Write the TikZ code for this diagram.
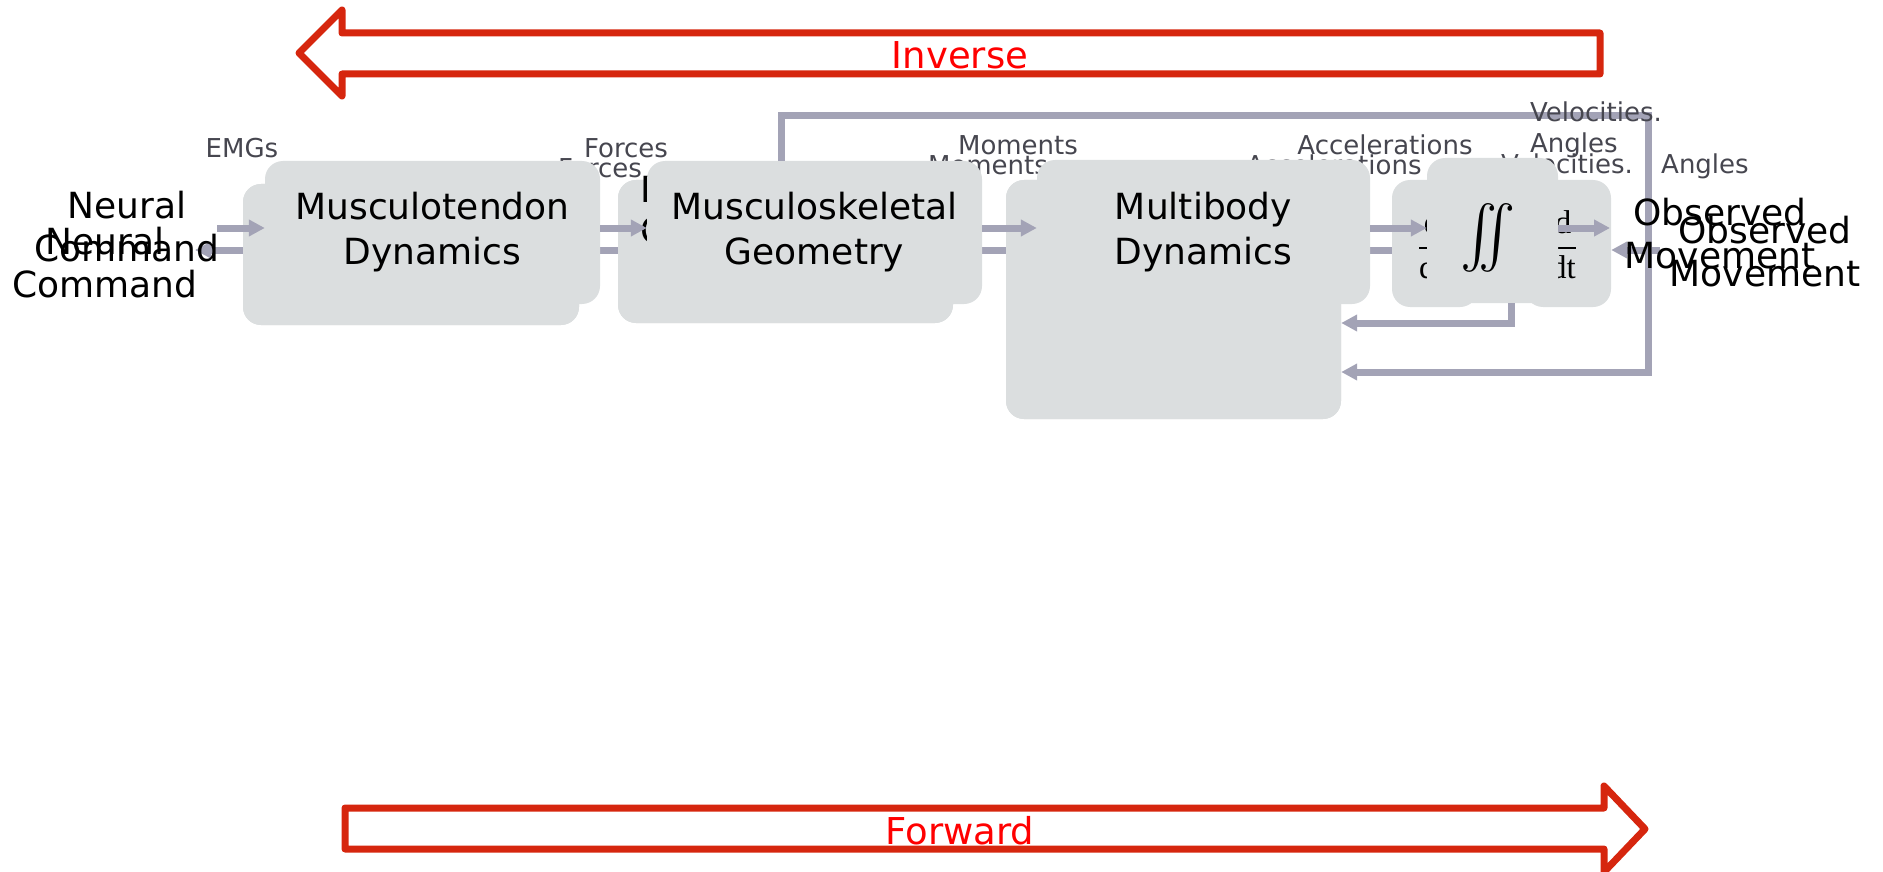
\documentclass[tikz,border=0pt]{standalone}
\usepackage{amsmath}
\usepackage{graphicx}
\usepackage{fontspec}
\setmainfont{DejaVu Sans}
\newfontfamily\tms{Liberation Serif}
\usetikzlibrary{arrows.meta}
\definecolor{boxgrey}{HTML}{DBDEDF}
\definecolor{linegrey}{HTML}{A3A3B6}
\definecolor{arrowred}{HTML}{D6260E}
\definecolor{labelgrey}{HTML}{46464F}
\tikzset{
  box/.style={fill=boxgrey, draw=none, rounded corners=18pt, inner sep=0pt, align=center, font=\fontsize{36}{45}\selectfont},
  lbl/.style={font=\fontsize{26}{30}\selectfont, text=labelgrey, inner sep=0pt},
  side/.style={font=\fontsize{36}{43}\selectfont, align=center, inner sep=0pt},
  conn/.style={draw=linegrey, line width=7pt},
  grarrow/.style={-{Triangle[length=16pt,width=16pt]}},
  bigarrow/.style={draw=arrowred, line width=7pt, line join=round},
  redtext/.style={text=red, font=\fontsize{37}{40}\selectfont, inner sep=0pt},
  mathtext/.style={inner sep=0pt},
}
\begin{document}
\begin{tikzpicture}[x=1pt,y=-1pt]
\useasboundingbox (0,0) rectangle (1883,872);
% helper coordinates
\coordinate (y228) at (0,228);
\coordinate (y250) at (0,250);
\coordinate (x781) at (781,0);
\coordinate (x1511) at (1511,0);
\coordinate (c2) at (1648,116);
\coordinate (c3) at (1648,372);
\coordinate (c4) at (1511,323);
\coordinate (nA) at (217,228);
\coordinate (nB) at (195,250);
\coordinate (obsT) at (1610,228);
\coordinate (obsB) at (1660,250);

% big red arrows
\draw[bigarrow] (1600,33) -- (342,33) -- (342,10) -- (299,53) -- (342,96) -- (342,74) -- (1600,74) -- cycle;
\node[redtext, anchor=base] (inv) at (960,69) {Inverse};
\draw[bigarrow] (345,808) -- (1604,808) -- (1604,786) -- (1645,829) -- (1604,872) -- (1604,849) -- (345,849) -- cycle;
\node[redtext, anchor=base] (fwd) at (960,844) {Forward};

% hidden duplicate labels
\node[lbl, anchor=base] (forcesB) at (600,178) {Forces};
\node[lbl, anchor=base] (momentsB) at (988,175) {Moments};
\node[lbl, anchor=base] (accB) at (1334,175) {Accelerations};
\node[lbl, anchor=base west] (velB) at (1501,174) {Velocities.};

% back boxes
\node[box, minimum width=336pt, minimum height=141pt] (mtBack) at (411,254.5) {};
\node[box, minimum width=335pt, minimum height=143pt] (msBack) at (785.5,251.5) {};
\node[box, minimum width=335pt, minimum height=239pt] (mbBack) at (1173.5,299.5) {};

% inverse connectors (under boxes)
\draw[conn, grarrow] (mtBack.west |- y250) -- (nB);
\draw[conn, grarrow] (msBack.west |- y250) -- (mtBack.east |- y250);
\draw[conn, grarrow] (mbBack.west |- y250) -- (msBack.east |- y250);

\node[box, minimum width=336pt, minimum height=141pt] (mtBack2) at (411,254.5) {};
\node[box, minimum width=335pt, minimum height=143pt] (msBack2) at (785.5,251.5) {};
\node[box, minimum width=335pt, minimum height=239pt] (mbBack2) at (1173.5,299.5) {};
\node[font=\fontsize{36}{40}\selectfont, align=left, anchor=base west, inner sep=0pt] (msBackText) at (640,243) {Musculoskeletal\\Geometry};

% integrator back boxes
\node[box, minimum width=86pt, minimum height=127pt] (intL) at (1435,243.5) {};
\node[box, minimum width=86pt, minimum height=127pt] (intR) at (1568,243.5) {};
\draw[conn, grarrow] (intL.west |- y250) -- (mbBack.east |- y250);
\node[mathtext] (fracL) at (1432,245) {\scalebox{3.3}{$\dfrac{\text{\tms d}}{\text{\tms dt}}$}};
\node[mathtext] (fracR) at (1563,245) {\scalebox{3.3}{$\dfrac{\text{\tms d}}{\text{\tms dt}}$}};

% front boxes
\node[box, minimum width=335pt, minimum height=143pt] (mtFront) at (432.5,232.5) {Musculotendon\\Dynamics};
\node[box, minimum width=335pt, minimum height=143pt] (msFront) at (814.5,232.5) {Musculoskeletal\\Geometry};
\node[box, minimum width=333pt, minimum height=144pt] (mbFront) at (1203.5,232) {Multibody\\Dynamics};
\node[box, minimum width=131pt, minimum height=145pt] (intF) at (1492.5,230.5) {};
\node[mathtext] (iint) at (1488,238) {\scalebox{5.6}[6.2]{$\textstyle\int\!\!\!\int$}};

% forward connectors
\draw[conn, grarrow] (nA) -- (nA -| mtFront.west);
\draw[conn, grarrow] (mtFront.east |- y228) -- (msFront.west |- y228);
\draw[conn, grarrow] (msFront.east |- y228) -- (mbFront.west |- y228);
\draw[conn, grarrow] (mbFront.east |- y228) -- (intF.west |- y228);
\draw[conn, grarrow] (intF.east |- y228) -- (obsT);
\draw[conn, grarrow] (obsB) -- (intR.east |- y250);

% feedback loops
\draw[conn, grarrow] (x781 |- msFront.north) |- (c2) |- (c3 -| mbBack.east);
\draw[conn, grarrow] (x1511 |- intF.south) |- (c4 -| mbBack.east);

% labels
\node[lbl, anchor=base] (emgs) at (242,158) {EMGs};
\node[lbl, anchor=base] (forcesA) at (626,158) {Forces};
\node[lbl, anchor=base] (momentsA) at (1018,155) {Moments};
\node[lbl, anchor=base] (accA) at (1385,155) {Accelerations};
\node[lbl, anchor=base west] (velA) at (1530,122) {Velocities.};
\node[lbl, anchor=base west] (angA) at (1530,153) {Angles};
\node[lbl, anchor=base west] (angB) at (1661,174) {Angles};

% side texts
\node[side] (neuralA) at (127,227) {Neural\\Command};
\node[side] (neuralB) at (105,263) {Neural\\Command};
\node[side] (obsA) at (1720,234) {Observed\\Movement};
\node[side] (obsBtext) at (1765,252) {Observed\\Movement};
\end{tikzpicture}
\end{document}
